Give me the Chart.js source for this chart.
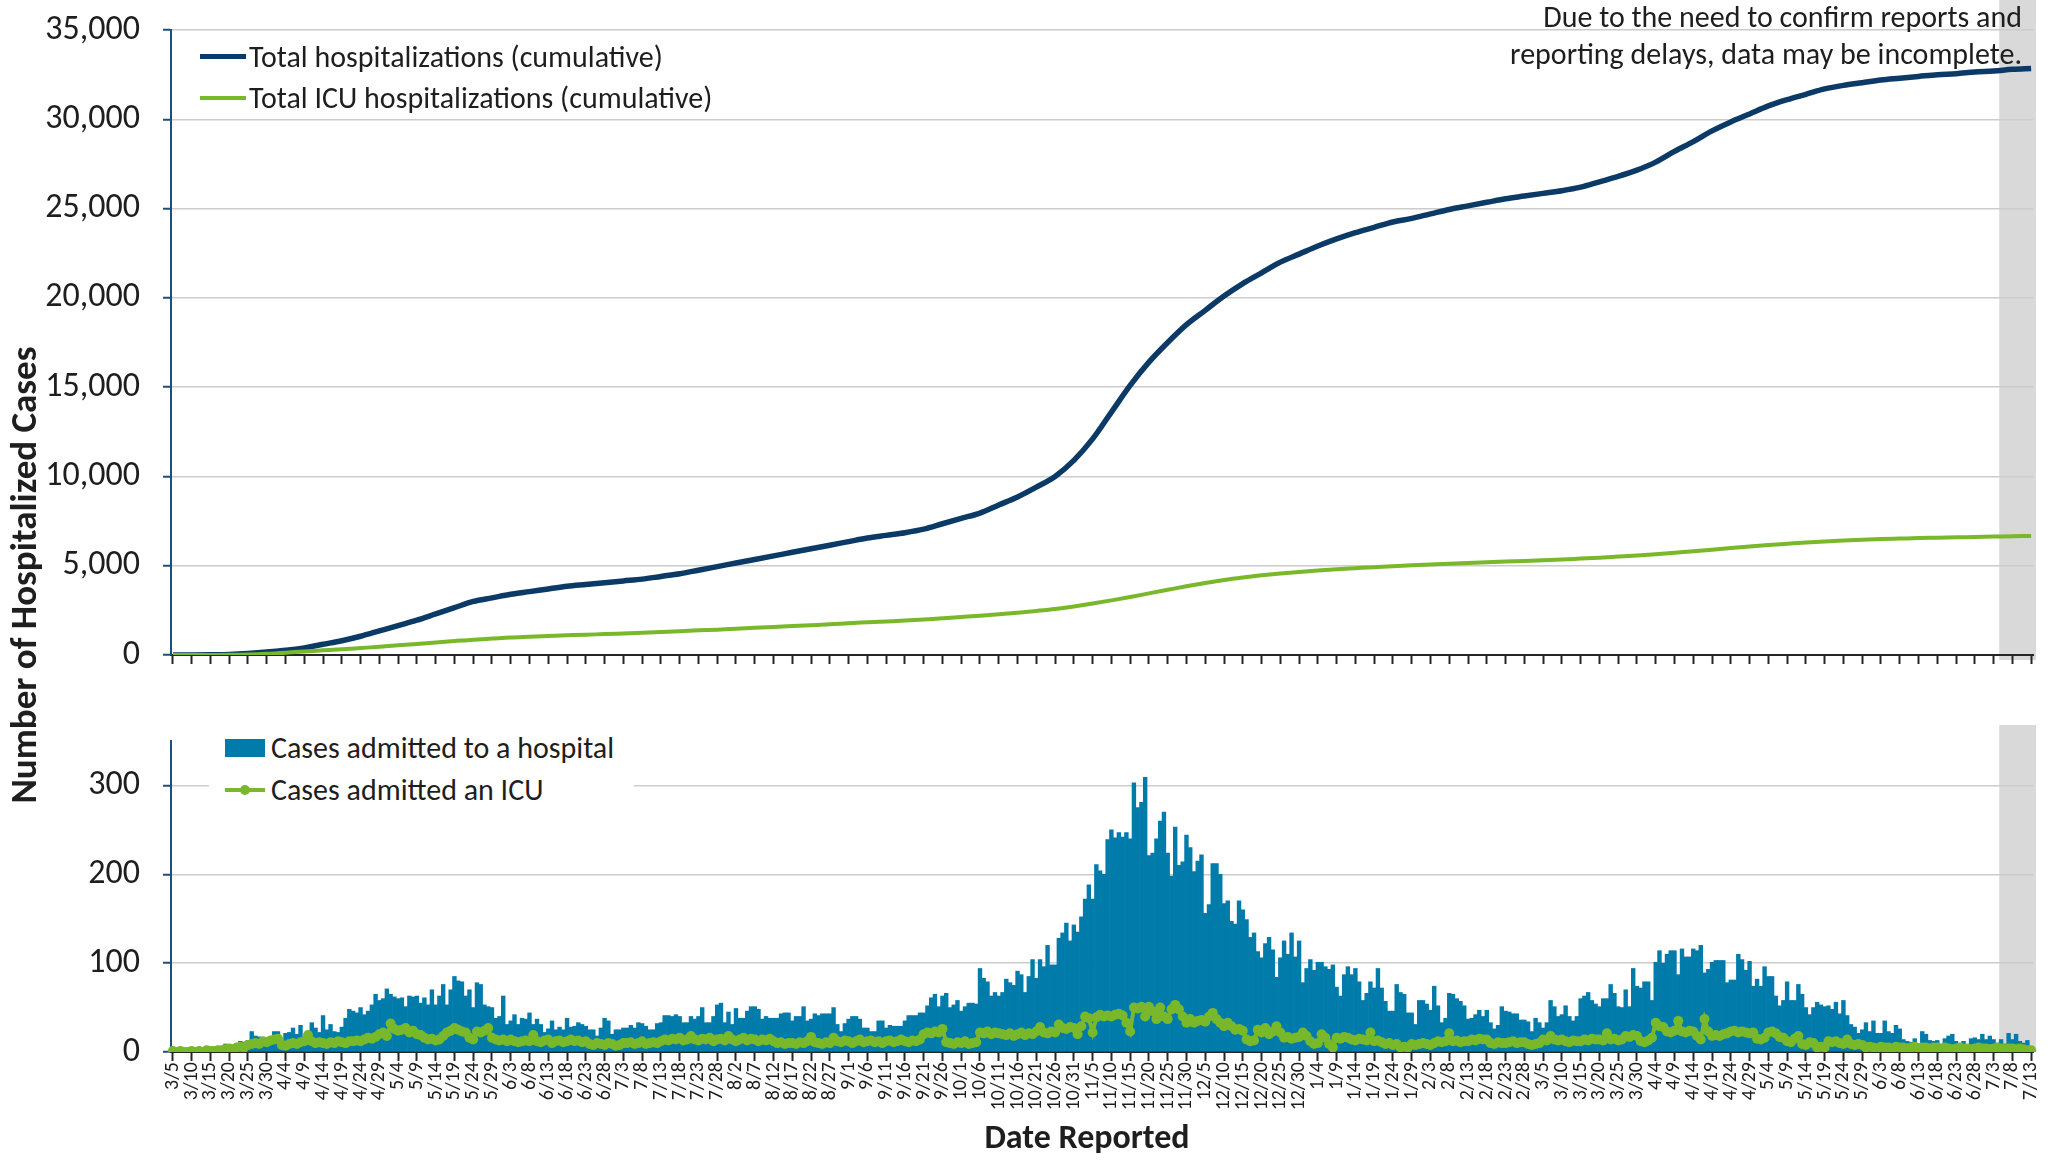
<!DOCTYPE html>
<html>
<head>
<meta charset="utf-8">
<title>Hospitalized Cases</title>
<script src="https://cdn.jsdelivr.net/npm/chart.js@4.4.1/dist/chart.umd.min.js"></script>
<style>
	body { margin: 0; width: 2049px; height: 1161px; overflow: hidden; background: #fff;
		font-family: Carlito, Lato, sans-serif; color: #1e1e1e; }
	#top-wrap { position: absolute; left: 0; top: 0; width: 2049px; height: 680px; }
	#bottom-wrap { position: absolute; left: 0; top: 700px; width: 2049px; height: 461px; }
	.legend { position: absolute; font-size: 30px; line-height: 41px; white-space: nowrap; }
	.legend .row { display: flex; align-items: center; }
	.legend .ln { display: inline-block; width: 46px; margin-right: 3px; }
	#legend-bottom { left: 209px; top: 725px; width: 425px; height: 88px; background: #fff; padding-top: 2px; line-height: 42px; }
	#legend-bottom .row { padding-left: 16px; }
	.swatch { display: inline-block; width: 40px; height: 18px; margin-right: 6px; }
	.ln-dot { position: relative; display: inline-block; width: 40px; height: 4px; margin-right: 6px; }
	.ln-dot::after { content: ''; position: absolute; left: 15px; top: -3px; width: 10px; height: 10px; border-radius: 50%; background: inherit; }
	#note { position: absolute; right: 27px; top: -2px; font-size: 30px; line-height: 37px; text-align: right; }
	#y-title { position: absolute; left: -276px; top: 555px; width: 600px; height: 40px; line-height: 40px;
		text-align: center; font-weight: bold; font-size: 37px; transform: rotate(-90deg); }
	#x-title { position: absolute; left: 787px; top: 1117px; width: 600px; height: 40px; line-height: 40px;
		text-align: center; font-weight: bold; font-size: 34px; }
</style>
</head>
<body>
<div id="top-wrap"><canvas id="top-chart"></canvas></div>
<div id="bottom-wrap"><canvas id="bottom-chart"></canvas></div>

<div class="legend" id="legend-top" style="left:200px; top:36px;">
	<div class="row"><span class="ln" style="height:5px; background:#0b3a66;"></span>Total hospitalizations (cumulative)</div>
	<div class="row"><span class="ln" style="height:4px; background:#78b82a;"></span>Total ICU hospitalizations (cumulative)</div>
</div>
<div class="legend" id="legend-bottom">
	<div class="row"><span class="swatch" style="background:#007baa;"></span>Cases admitted to a hospital</div>
	<div class="row"><span class="ln-dot" style="background:#78b82a;"></span>Cases admitted an ICU</div>
</div>
<div id="note">Due to the need to confirm reports and<br>reporting delays, data may be incomplete.</div>
<div id="y-title">Number of Hospitalized Cases</div>
<div id="x-title">Date Reported</div>

<script>
// x axis labels, one every 5 days from 3/5/2020 to 7/13/2021
const tickLabels = [
	'3/5','3/10','3/15','3/20','3/25','3/30','4/4','4/9','4/14','4/19','4/24','4/29',
	'5/4','5/9','5/14','5/19','5/24','5/29','6/3','6/8','6/13','6/18','6/23','6/28',
	'7/3','7/8','7/13','7/18','7/23','7/28','8/2','8/7','8/12','8/17','8/22','8/27',
	'9/1','9/6','9/11','9/16','9/21','9/26','10/1','10/6','10/11','10/16','10/21','10/26','10/31',
	'11/5','11/10','11/15','11/20','11/25','11/30','12/5','12/10','12/15','12/20','12/25','12/30',
	'1/4','1/9','1/14','1/19','1/24','1/29','2/3','2/8','2/13','2/18','2/23','2/28',
	'3/5','3/10','3/15','3/20','3/25','3/30','4/4','4/9','4/14','4/19','4/24','4/29',
	'5/4','5/9','5/14','5/19','5/24','5/29','6/3','6/8','6/13','6/18','6/23','6/28',
	'7/3','7/8','7/13'
];

// cumulative totals, read at each labelled date
const hospCumulative = [
	2,5,12,30,85,165,270,400,600,800,
	1050,1350,1650,1950,2300,2650,3000,3200,3400,3550,
	3700,3850,3950,4050,4150,4250,4400,4550,4750,4950,
	5150,5350,5550,5750,5950,6150,6350,6550,6700,6850,
	7050,7350,7650,7950,8400,8850,9400,10000,10900,12100,
	13600,15100,16400,17500,18500,19300,20100,20800,21400,22000,
	22450,22900,23300,23650,23950,24250,24450,24700,24950,25150,
	25350,25550,25700,25850,26000,26200,26500,26800,27150,27600,
	28200,28750,29350,29850,30300,30750,31100,31400,31700,31900,
	32050,32200,32300,32400,32500,32550,32650,32700,32800,32850
];
const icuCumulative = [
	0,0,0,10,30,70,130,200,260,320,
	390,460,540,620,700,780,860,920,980,1020,
	1060,1100,1140,1170,1210,1250,1290,1330,1380,1420,
	1470,1520,1570,1620,1670,1720,1780,1830,1880,1930,
	1990,2060,2130,2200,2280,2370,2470,2580,2720,2880,
	3060,3250,3450,3650,3850,4030,4200,4340,4460,4560,
	4650,4730,4800,4860,4920,4970,5020,5070,5110,5150,
	5190,5230,5270,5310,5350,5400,5450,5510,5570,5640,
	5720,5810,5900,5990,6080,6160,6230,6300,6360,6410,
	6450,6490,6520,6550,6570,6590,6610,6630,6650,6670
];

// daily admissions, 3/5/2020 .. 7/13/2021 (496 days)
const hospDaily = [
	2,1,0,1,0,1,2,0,1,3,  2,1,2,4,9,4,6,5,12,11,
	13,23,18,17,14,13,15,23,23,12,  21,22,27,20,30,17,16,33,27,22,
	41,25,31,23,22,28,38,48,46,44,  50,42,46,53,65,58,60,71,65,62,
	60,61,51,63,62,63,55,61,53,70,  53,63,76,53,70,85,80,79,63,70,
	50,78,76,53,51,50,38,40,63,31,  35,42,31,38,37,44,31,37,31,22,
	26,35,25,28,25,38,28,29,33,31,  29,25,25,18,27,38,35,20,25,25,
	27,27,30,27,33,32,29,25,25,32,  33,41,41,40,42,40,33,33,40,37,
	40,50,33,33,40,53,55,33,45,31,  49,38,38,46,51,51,48,37,40,38,
	38,38,43,44,44,35,40,40,51,35,  37,43,41,43,43,43,50,31,23,32,
	37,40,40,37,27,27,23,23,35,35,  27,30,29,29,29,35,41,41,41,44,
	44,52,61,65,51,63,66,50,53,58,  46,51,55,55,54,94,83,79,63,67,
	63,67,82,78,75,91,87,67,85,104,  83,104,96,120,98,98,128,134,145,125,
	143,135,152,172,188,172,211,204,200,239,  250,241,247,242,247,240,303,275,281,309,
	221,224,240,260,270,224,198,253,210,214,  244,230,203,215,222,156,166,212,212,200,
	167,170,147,144,170,160,149,129,134,113,  106,122,129,115,84,106,125,110,134,107,
	125,78,94,104,92,101,101,96,93,98,  73,63,87,96,87,94,79,58,66,79,
	72,94,72,57,46,46,76,67,65,44,  44,31,58,58,54,47,74,52,33,38,
	66,65,60,57,52,37,38,42,47,40,  47,33,26,30,51,46,45,43,43,36,
	36,34,23,38,33,27,33,58,51,40,  42,52,40,35,40,60,63,67,58,54,
	51,60,60,76,66,51,50,70,51,94,  74,72,79,79,58,101,114,100,110,114,
	114,87,116,107,107,116,114,120,89,93,  101,103,103,103,78,81,81,110,104,92,
	102,74,82,74,96,85,85,63,52,58,  79,58,58,76,65,50,42,50,56,53,
	51,52,48,56,43,58,41,31,28,21,  25,33,23,35,21,21,35,23,21,30,
	26,14,12,11,15,9,23,20,13,12,  13,7,15,18,20,12,9,12,7,15,
	16,14,20,14,18,14,10,14,9,21,  14,20,12,10,13,5
];
const icuDaily = [
	1,0,1,0,0,1,0,1,0,2,  1,1,2,2,3,4,3,5,6,5,
	8,9,10,9,12,11,13,14,15,8,  7,9,10,9,11,12,19,12,10,11,
	10,9,11,10,12,11,10,12,12,13,  12,14,16,15,17,20,22,18,32,26,
	24,25,27,22,24,20,19,16,14,15,  13,14,18,22,24,27,25,23,22,16,
	14,23,22,24,27,16,14,13,14,12,  14,12,11,12,13,12,19,12,11,13,
	14,10,12,13,11,12,14,12,13,11,  12,9,8,10,9,8,10,9,7,8,
	10,10,11,9,10,12,9,10,11,10,  12,14,13,15,14,16,13,14,18,14,
	13,15,14,16,12,14,15,13,18,14,  12,14,16,13,15,14,12,14,13,15,
	12,10,11,9,10,10,9,11,10,12,  17,11,10,9,11,10,16,12,11,13,
	12,10,12,14,11,12,13,11,12,10,  12,13,11,12,14,12,11,13,12,14,
	20,22,21,23,22,26,11,10,9,11,  10,12,9,10,11,22,21,23,20,22,
	21,20,19,21,18,20,22,19,21,20,  23,28,22,21,23,22,31,27,26,28,
	27,20,29,40,38,22,39,42,40,41,  40,42,43,41,33,23,50,49,51,40,
	51,46,37,50,40,37,48,53,48,40,  33,37,33,35,36,34,40,44,37,33,
	29,33,29,25,26,24,14,12,13,25,  22,27,20,23,29,22,16,17,15,16,
	17,22,18,12,9,10,20,16,9,5,  16,15,17,16,14,13,15,14,13,22,
	12,13,11,9,10,8,9,5,6,5,  9,8,9,10,9,8,10,12,11,12,
	21,12,13,11,12,12,14,13,15,14,  14,10,9,11,10,10,11,12,10,11,
	11,9,8,9,10,14,13,18,14,13,  14,12,11,13,12,12,14,13,15,14,
	14,13,21,14,15,13,14,18,17,19,  18,12,11,13,16,33,29,28,23,22,
	24,35,23,22,24,23,18,14,37,23,  18,19,18,20,21,23,24,22,23,22,
	21,22,15,14,16,22,23,21,17,16,  12,11,15,18,9,8,11,10,5,6,
	5,12,11,12,10,9,14,9,8,9,  8,5,6,5,4,6,5,5,4,6,
	5,5,4,5,6,4,5,5,4,5,  5,4,5,4,3,4,5,4,4,3,
	4,5,4,4,3,4,5,4,3,4,  4,3,4,3,2,2
];

// first day inside the grey "may be incomplete" band
const incompleteFromDay = 487;

const NAVY = '#0b3a66';
const GREEN = '#78b82a';
const BAR_BLUE = '#007baa';
const GRID = '#cccccc';
const AXIS_BLUE = '#1f4e79';
const TEXT = '#1e1e1e';

Chart.defaults.font.family = 'Carlito, Lato, sans-serif';
Chart.defaults.color = TEXT;
Chart.defaults.animation = false;

// one unique category per day (dates repeat across the two years)
const dayLabels = hospDaily.map(function (v, i) {
	var d = new Date(2020, 2, 5 + i);
	return d.getFullYear() + '-' + (d.getMonth() + 1) + '-' + d.getDate();
});

function everyFifth(values) {
	return values.map(function (v, i) { return { x: dayLabels[i * 5], y: v }; });
}

const shadePlugin = {
	id: 'shade',
	beforeDraw(chart, args, opts) {
		const { ctx, chartArea, scales } = chart;
		const x = scales.x;
		const half = (x.getPixelForValue(1) - x.getPixelForValue(0)) / 2;
		const left = x.getPixelForValue(opts.fromDay) - half;
		ctx.save();
		ctx.fillStyle = '#d9d9d9';
		ctx.fillRect(left, chartArea.top - opts.above,
			chartArea.right + 3 - left, chartArea.bottom - chartArea.top + opts.above + opts.below);
		ctx.restore();
	}
};

function xAxis(showLabels, height) {
	return {
		type: 'category',
		offset: true,
		grid: {
			display: true,
			drawOnChartArea: false,
			offset: false,
			tickLength: 9,
			tickWidth: 2,
			tickColor: c => (c.index % 5 === 0 ? '#262626' : 'rgba(0,0,0,0)')
		},
		border: { color: '#262626', width: 2 },
		ticks: {
			autoSkip: false,
			minRotation: 90,
			maxRotation: 90,
			padding: 1,
			color: TEXT,
			font: { size: 20 },
			callback: (v, i) => (showLabels && i % 5 === 0 ? tickLabels[i / 5] : '')
		},
		afterFit: s => { s.height = height; s.paddingLeft = 0; s.paddingRight = 0; }
	};
}

function yAxis(max, step) {
	return {
		min: 0,
		max: max,
		ticks: {
			stepSize: step,
			padding: 23,
			color: TEXT,
			font: { size: 34 },
			callback: v => (v % step ? '' : v.toLocaleString('en-US'))
		},
		grid: {
			color: c => (c.tick && c.tick.value % step ? 'rgba(0,0,0,0)' : GRID),
			lineWidth: 1.5,
			tickLength: 8,
			tickWidth: 2,
			tickColor: c => (c.tick && c.tick.value % step ? 'rgba(0,0,0,0)' : AXIS_BLUE)
		},
		border: { color: AXIS_BLUE, width: 2 },
		afterFit: s => { s.width = 171; s.paddingTop = 0; s.paddingBottom = 0; }
	};
}

new Chart(document.getElementById('top-chart'), {
	type: 'line',
	plugins: [shadePlugin],
	data: {
		labels: dayLabels,
		datasets: [
			{
				label: 'Total ICU hospitalizations (cumulative)',
				data: everyFifth(icuCumulative),
				borderColor: GREEN,
				borderWidth: 4,
				pointRadius: 0,
				cubicInterpolationMode: 'monotone'
			},
			{
				label: 'Total hospitalizations (cumulative)',
				data: everyFifth(hospCumulative),
				borderColor: NAVY,
				borderWidth: 5.5,
				pointRadius: 0,
				cubicInterpolationMode: 'monotone'
			}
		]
	},
	options: {
		responsive: true,
		maintainAspectRatio: false,
		layout: { padding: { top: 30, right: 16, left: 0, bottom: 0 } },
		plugins: {
			legend: { display: false },
			tooltip: { enabled: false },
			shade: { fromDay: incompleteFromDay, above: 30, below: 5 }
		},
		scales: {
			x: xAxis(false, 25),
			y: yAxis(35000, 5000)
		}
	}
});

new Chart(document.getElementById('bottom-chart'), {
	type: 'bar',
	plugins: [shadePlugin],
	data: {
		labels: dayLabels,
		datasets: [
			{
				type: 'line',
				label: 'Cases admitted an ICU',
				data: icuDaily,
				borderColor: GREEN,
				backgroundColor: GREEN,
				borderWidth: 4,
				pointRadius: 5,
				pointBorderWidth: 0,
				pointBackgroundColor: GREEN,
				order: 0
			},
			{
				type: 'bar',
				label: 'Cases admitted to a hospital',
				data: hospDaily,
				backgroundColor: BAR_BLUE,
				barPercentage: 1,
				categoryPercentage: 1,
				order: 1
			}
		]
	},
	options: {
		responsive: true,
		maintainAspectRatio: false,
		layout: { padding: { top: 41, right: 16, left: 0, bottom: 0 } },
		plugins: {
			legend: { display: false },
			tooltip: { enabled: false },
			shade: { fromDay: incompleteFromDay, above: 16, below: 0 }
		},
		scales: {
			x: xAxis(true, 109),
			y: yAxis(350, 100)
		}
	}
});
</script>
</body>
</html>
